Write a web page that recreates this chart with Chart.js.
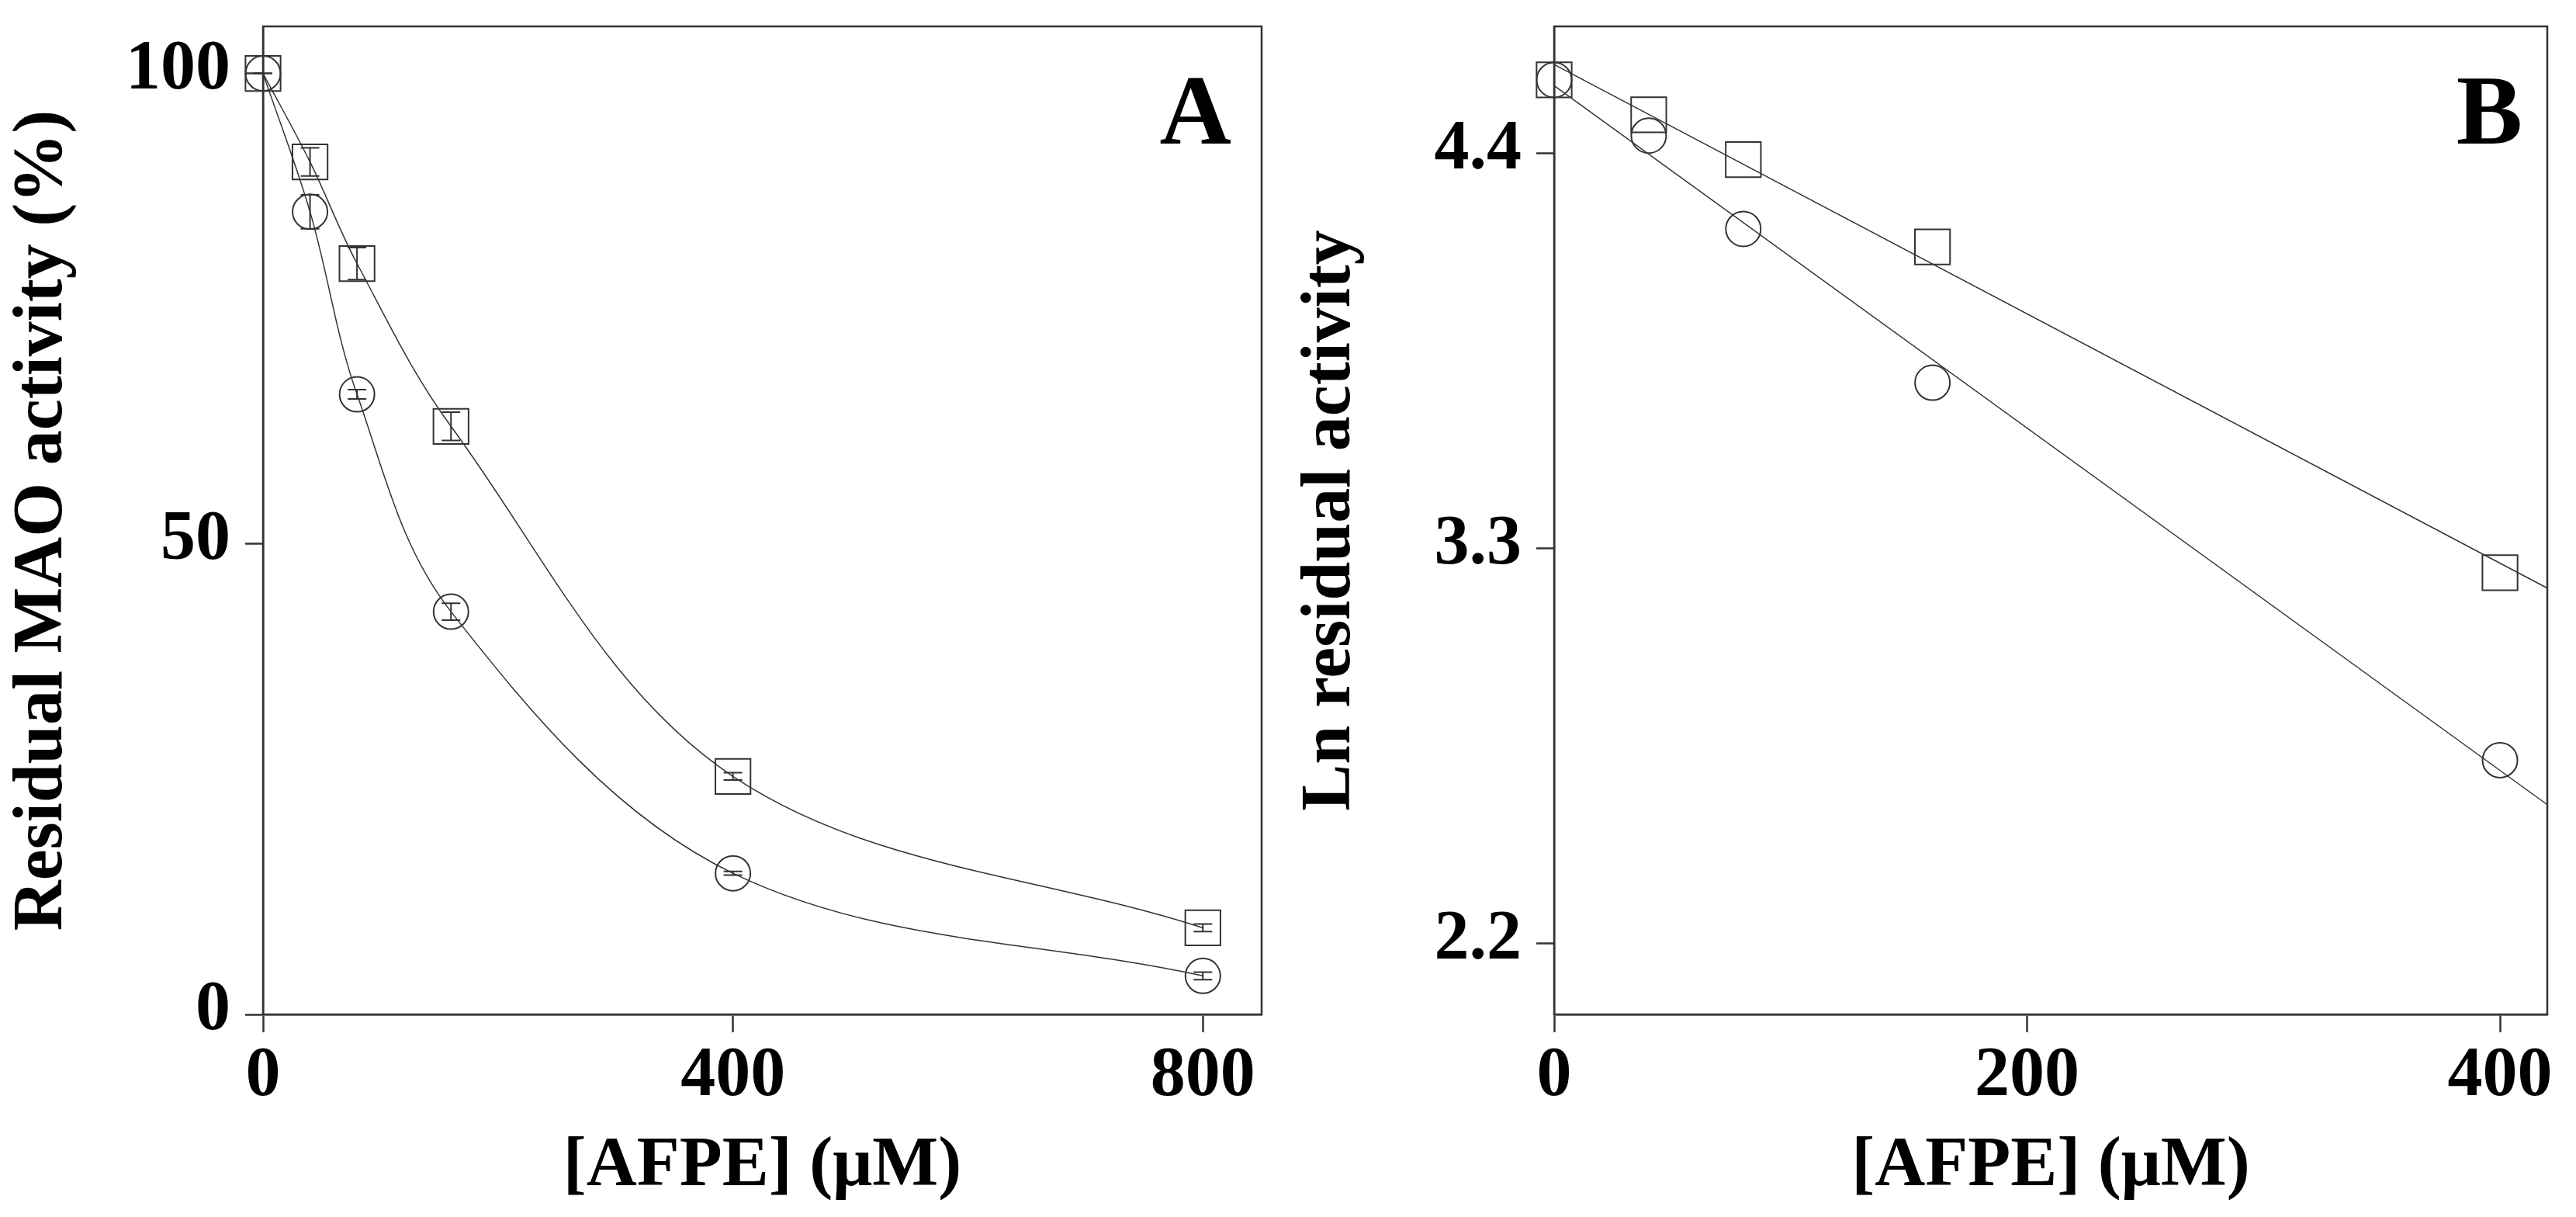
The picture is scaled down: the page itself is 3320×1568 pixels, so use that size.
<!DOCTYPE html>
<html>
<head>
<meta charset="utf-8">
<script src="https://cdn.jsdelivr.net/npm/chart.js@4.4.0/dist/chart.umd.min.js"></script>
<style>
  html, body { margin: 0; padding: 0; background: #fff; }
  #wrap { position: relative; width: 3320px; height: 1568px; }
  .painel { position: absolute; top: 0; width: 1660px; height: 1568px; }
</style>
</head>
<body>
<div id="wrap">
  <div class="painel" style="left:0"><canvas id="chartA"></canvas></div>
  <div class="painel" style="left:1660px"><canvas id="chartB"></canvas></div>
</div>
<script>
// painel A - atividade residual (%) vs [AFPE]
const concA = [0, 40, 80, 160, 400, 800];
const quadA = [100, 90.6, 79.8, 62.5, 25.3, 9.2];
const quadErrA = [0, 1.5, 1.7, 1.5, 0.4, 0.4];
const circA = [100, 85.3, 65.9, 42.8, 15.0, 4.1];
const circErrA = [0, 1.8, 0.5, 0.9, 0.2, 0.4];

// painel B - ln da atividade residual
const concB = [0, 40, 80, 160, 400];
const quadB = [4.605, 4.508, 4.383, 4.14, 3.233];
const circB = [4.605, 4.45, 4.19, 3.762, 2.711];
// retas ajustadas (extremos)
const retaX = [0, 420];
const retaQuadB = [4.648, 3.19];
const retaCircB = [4.589, 2.587];

const ticksXA = [0, 400, 800];
const ticksYA = [0, 50, 100];
const ticksXB = [0, 200, 400];
const ticksYB = [2.2, 3.3, 4.4];

const COR = '#333';
const fonte = { family: "'Liberation Serif', 'Times New Roman', serif", weight: 'bold', size: 90 };

function pts(xs, ys) {
    return xs.map((x, i) => ({ x: x, y: ys[i] }));
}

// barras de erro verticais
const barrasErro = {
    id: 'barrasErro',
    afterDatasetsDraw(chart) {
        const ctx = chart.ctx;
        const sx = chart.scales.x, sy = chart.scales.y;
        chart.data.datasets.forEach(ds => {
            if (!ds.erros) return;
            ctx.save();
            ctx.strokeStyle = COR;
            ctx.lineWidth = 2;
            ds.data.forEach((p, j) => {
                const x = sx.getPixelForValue(p.x);
                const y1 = sy.getPixelForValue(p.y + ds.erros[j]);
                const y2 = sy.getPixelForValue(p.y - ds.erros[j]);
                ctx.beginPath();
                ctx.moveTo(x, y1); ctx.lineTo(x, y2);
                ctx.moveTo(x - 12, y1); ctx.lineTo(x + 12, y1);
                ctx.moveTo(x - 12, y2); ctx.lineTo(x + 12, y2);
                ctx.stroke();
            });
            ctx.restore();
        });
    }
};

// moldura da área do gráfico + letra do painel
const moldura = {
    id: 'moldura',
    afterDraw(chart, args, opts) {
        const ctx = chart.ctx;
        const a = chart.chartArea;
        ctx.save();
        ctx.strokeStyle = COR;
        ctx.lineWidth = 2.5;
        ctx.strokeRect(a.left, a.top, a.right - a.left, a.bottom - a.top);
        ctx.fillStyle = '#000';
        ctx.font = "bold 128px 'Liberation Serif', serif";
        ctx.textAlign = 'right';
        ctx.textBaseline = 'alphabetic';
        ctx.fillText(opts.letra, a.right - opts.dx, a.top + 151);
        ctx.restore();
    }
};

function eixoX(max, ticks, titulo) {
    return {
        type: 'linear', min: 0, max: max,
        afterBuildTicks: s => { s.ticks = ticks.map(v => ({ value: v })); },
        afterFit: s => { s.height = 261; s.paddingLeft = 0; s.paddingRight = 0; },
        grid: { drawOnChartArea: false, tickLength: 23, tickWidth: 2.5, tickColor: COR },
        border: { color: COR, width: 2.5 },
        ticks: { padding: 4, color: '#000', font: fonte, maxRotation: 0, autoSkip: false, callback: v => String(v) },
        title: { display: true, text: titulo, color: '#000', font: fonte, padding: { top: 0, bottom: 10 } }
    };
}

function eixoY(min, max, ticks, titulo, largura, casas) {
    return {
        type: 'linear', min: min, max: max,
        afterBuildTicks: s => { s.ticks = ticks.map(v => ({ value: v })); },
        afterFit: s => { s.width = largura; s.paddingTop = 0; s.paddingBottom = 0; },
        grid: { drawOnChartArea: false, tickLength: 23, tickWidth: 2.5, tickColor: COR },
        border: { color: COR, width: 2.5 },
        ticks: { padding: 19, labelOffset: -4, color: '#000', font: fonte, autoSkip: false, callback: v => v.toFixed(casas) },
        title: { display: true, text: titulo, color: '#000', font: fonte, padding: { top: 2, bottom: 0 } }
    };
}

function opcoes(padDir, letra, dx, sx, sy) {
    return {
        responsive: true,
        maintainAspectRatio: false,
        devicePixelRatio: 1,
        animation: false,
        layout: { padding: { top: 34, right: padDir, left: 0, bottom: 0 } },
        plugins: { legend: { display: false }, tooltip: { enabled: false }, moldura: { letra: letra, dx: dx } },
        scales: { x: sx, y: sy }
    };
}

function serie(xs, ys, estilo, raio, extra) {
    return Object.assign({
        data: pts(xs, ys),
        showLine: true,
        borderColor: COR,
        borderWidth: 1.5,
        pointStyle: estilo,
        pointRadius: raio,
        pointHoverRadius: raio,
        pointBorderWidth: 2,
        pointBorderColor: COR,
        pointBackgroundColor: 'rgba(0,0,0,0)',
        clip: false
    }, extra || {});
}

new Chart(document.getElementById('chartA'), {
    type: 'scatter',
    data: {
        datasets: [
            serie(concA, quadA, 'rect', 32, { erros: quadErrA, tension: 0.35 }),
            serie(concA, circA, 'circle', 22.5, { erros: circErrA, tension: 0.35 })
        ]
    },
    options: opcoes(25, 'A', 39,
        eixoX(850, ticksXA, '[AFPE] (μM)'),
        eixoY(0, 105, ticksYA, 'Residual MAO activity (%)', 339, 0)),
    plugins: [barrasErro, moldura]
});

new Chart(document.getElementById('chartB'), {
    type: 'scatter',
    data: {
        datasets: [
            serie(retaX, retaQuadB, 'circle', 0),
            serie(retaX, retaCircB, 'circle', 0),
            serie(concB, quadB, 'rect', 32, { showLine: false }),
            serie(concB, circB, 'circle', 22.5, { showLine: false })
        ]
    },
    options: opcoes(37, 'B', 32,
        eixoX(420, ticksXB, '[AFPE] (μM)'),
        eixoY(2.003, 4.754, ticksYB, 'Ln residual activity', 343, 1)),
    plugins: [moldura]
});
</script>
</body>
</html>
